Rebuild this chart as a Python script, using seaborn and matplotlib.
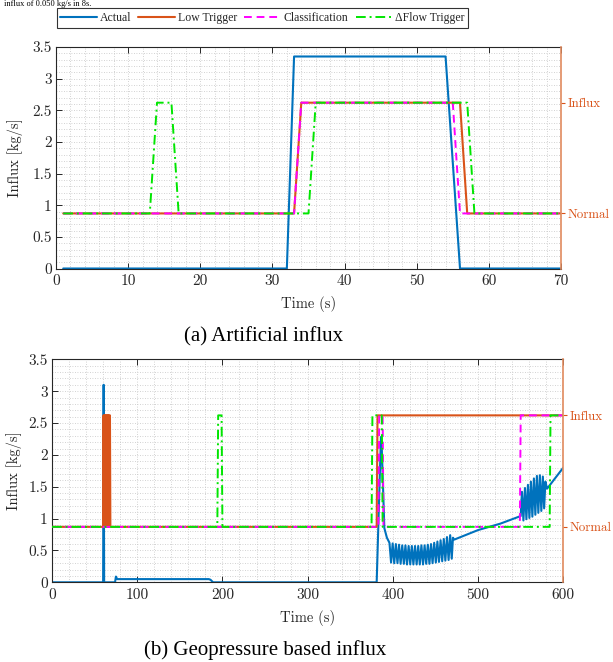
import numpy as np
import pandas as pd
import matplotlib
matplotlib.use("Agg")
import matplotlib.pyplot as plt
from matplotlib.ticker import MultipleLocator
import seaborn as sns

# ---------------- data: panel (a) artificial influx ----------------
a_actual_t = [1, 32, 33, 54, 56, 70]
a_actual_v = [0, 0, 3.35, 3.35, 0, 0]
a_low_t = [1, 33, 34, 56, 57, 70]
a_low_v = [0.87, 0.87, 2.62, 2.62, 0.87, 0.87]
a_cls_t = [1, 33, 34, 55, 56, 70]
a_cls_v = [0.87, 0.87, 2.62, 2.62, 0.87, 0.87]
a_dflow_t = [1, 13, 14, 16, 17, 35, 36, 57, 58, 70]
a_dflow_v = [0.87, 0.87, 2.62, 2.62, 0.87, 0.87, 2.62, 2.62, 0.87, 0.87]

# ---------------- data: panel (b) geopressure based influx ----------------
b_actual_t = [0, 60, 60.6, 61.2, 74, 75, 76.5, 184, 186, 189, 381, 386, 387, 390, 393,
              396, 397.9, 399.75, 401.6, 403.5, 405.4, 407.25, 409.1, 411, 412.9,
              414.75, 416.6, 418.5, 420.4, 422.25, 424.1, 426, 427.9, 429.75, 431.6,
              433.5, 435.4, 437.25, 439.1, 441, 442.9, 444.75, 446.6, 448.5, 450.4,
              452.25, 454.1, 456, 457.9, 459.75, 461.6, 463.5, 465.4, 467.25, 469.1,
              470.5, 472, 500, 526, 550,
              551.5, 553.2, 555, 556.7, 558.5, 560.2, 562, 563.7, 565.5, 567.2,
              569, 570.7, 572.5, 574.2, 576, 577.5, 579, 581, 600]
b_actual_v = [0, 0, 3.1, 0, 0, 0.09, 0.05, 0.05, 0.04, 0, 0, 2.28, 2.1, 0.85, 0.7,
              0.62, 0.31, 0.61, 0.30, 0.60, 0.30, 0.59, 0.29, 0.58, 0.29,
              0.58, 0.28, 0.57, 0.28, 0.57, 0.28, 0.57, 0.28, 0.57, 0.28,
              0.58, 0.28, 0.58, 0.29, 0.59, 0.29, 0.60, 0.30, 0.62, 0.31,
              0.64, 0.32, 0.66, 0.33, 0.68, 0.34, 0.71, 0.35, 0.74, 0.37,
              0.70, 0.67, 0.82, 0.92, 1.04,
              1.42, 0.97, 1.48, 0.99, 1.53, 1.01, 1.58, 1.03, 1.63, 1.06,
              1.67, 1.09, 1.68, 1.12, 1.66, 1.16, 1.58, 1.47, 1.80]
b_low_t = [0, 60, 60.5, 61, 61.5, 62, 62.5, 63, 63.5, 64, 64.5, 65, 65.5, 66, 66.5,
           67, 67.5, 68, 68.5, 381, 382, 600]
b_low_v = [0.87, 0.87, 2.62, 0.87, 2.62, 0.87, 2.62, 0.87, 2.62, 0.87, 2.62, 0.87,
           2.62, 0.87, 2.62, 0.87, 2.62, 2.62, 0.87, 0.87, 2.62, 2.62]
b_cls_t = [0, 383, 384, 388, 389, 549, 550, 600]
b_cls_v = [0.87, 0.87, 2.62, 2.62, 0.87, 0.87, 2.62, 2.62]
b_dflow_t = [0, 194, 195, 199, 200, 375, 376, 387, 388, 584, 585, 600]
b_dflow_v = [0.87, 0.87, 2.62, 2.62, 0.87, 0.87, 2.62, 2.62, 0.87, 0.87, 2.62, 2.62]

y_ticks = [0, 0.5, 1, 1.5, 2, 2.5, 3, 3.5]
y_labels = ["0", "0.5", "1", "1.5", "2", "2.5", "3", "3.5"]
a_x_ticks = [0, 10, 20, 30, 40, 50, 60, 70]
b_x_ticks = [0, 100, 200, 300, 400, 500, 600]
state_ticks = [0.87, 2.62]
state_labels = ["Normal", "Influx"]
series_names = ["Actual", "Low Trigger", "Classification", "\u0394Flow Trigger"]

# ---------------- style ----------------
sns.set_theme(style="ticks")
plt.rcParams["font.family"] = ["cmr10", "DejaVu Serif"]
plt.rcParams["axes.formatter.use_mathtext"] = True
plt.rcParams["mathtext.fontset"] = "cm"

BLUE = "#0072BD"
ORANGE = "#D95319"
MAGENTA = "#FF00FF"
GREEN = "#00E600"
DARK = "#262626"
TICK_FS = 11
LAB_FS = 10.5
STATE_FS = 9.3

fig = plt.figure(figsize=(6.13, 6.62), dpi=100)
W, H = 613.0, 662.0


def make_ax(l, r, top, bot):
    return fig.add_axes([l / W, 1 - bot / H, (r - l) / W, (bot - top) / H])


axA = make_ax(56, 561, 47, 268.5)
axB = make_ax(52, 563.3, 359.3, 582.3)


def draw(ax, at, av, lt, lv, ct, cv, dt, dv):
    sns.lineplot(x=at, y=av, ax=ax, color=BLUE, lw=1.5, sort=False, estimator=None,
                 label=series_names[0], zorder=2)
    sns.lineplot(x=lt, y=lv, ax=ax, color=ORANGE, lw=1.5, sort=False, estimator=None,
                 label=series_names[1], zorder=3)
    sns.lineplot(x=ct, y=cv, ax=ax, color=MAGENTA, lw=1.4, sort=False, estimator=None,
                 linestyle=(0, (4, 2.5)), label=series_names[2], zorder=4)
    sns.lineplot(x=dt, y=dv, ax=ax, color=GREEN, lw=1.4, sort=False, estimator=None,
                 linestyle=(0, (5, 2, 1, 2)), label=series_names[3], zorder=5)


draw(axA, a_actual_t, a_actual_v, a_low_t, a_low_v, a_cls_t, a_cls_v, a_dflow_t, a_dflow_v)
draw(axB, b_actual_t, b_actual_v, b_low_t, b_low_v, b_cls_t, b_cls_v, b_dflow_t, b_dflow_v)

handles, labels = axA.get_legend_handles_labels()
for ax in (axA, axB):
    if ax.get_legend() is not None:
        ax.get_legend().remove()


def style_ax(ax, xmax, xticks, xminor, ylabx, xlaby):
    ax.set_xlim(0, xmax)
    ax.set_ylim(0, 3.5)
    ax.set_xticks(xticks, [str(v) for v in xticks])
    ax.set_yticks(y_ticks, y_labels)
    ax.xaxis.set_minor_locator(MultipleLocator(xminor))
    ax.yaxis.set_minor_locator(MultipleLocator(0.1))
    ax.grid(True, which="both", linestyle=(0, (1, 2)), color="#c4c4c4", lw=0.6)
    ax.set_axisbelow(True)
    ax.tick_params(axis="both", which="major", direction="in", length=4, width=0.7,
                   colors=DARK, labelsize=TICK_FS, top=True, right=False)
    ax.tick_params(axis="x", which="major", pad=4)
    ax.tick_params(axis="y", which="major", pad=3)
    ax.tick_params(axis="both", which="minor", length=0)
    for s in ("left", "bottom", "top"):
        ax.spines[s].set_color(DARK)
        ax.spines[s].set_linewidth(0.8)
    ax.spines["right"].set_visible(False)
    ax.set_ylabel("Influx [kg/s]", fontsize=LAB_FS, color=DARK)
    ax.yaxis.set_label_coords(ylabx, 0.5)
    ax.set_xlabel("Time (s)", fontsize=LAB_FS, color=DARK)
    ax.xaxis.set_label_coords(0.5, xlaby)
    ax2 = ax.twinx()
    ax2.set_ylim(0, 3.5)
    ax2.set_yticks(state_ticks, state_labels)
    ax2.tick_params(axis="y", direction="out", length=3, width=0.8, colors=ORANGE,
                    labelsize=STATE_FS, pad=1.5)
    ax2.spines["right"].set_color("#E08A5E")
    ax2.spines["right"].set_linewidth(1.2)
    for s in ("left", "top", "bottom"):
        ax2.spines[s].set_visible(False)
    ax2.grid(False)


style_ax(axA, 70, a_x_ticks, 2, -0.065, -0.125)
style_ax(axB, 600, b_x_ticks, 20, -0.059, -0.125)

leg = fig.legend(handles, labels, loc="center", bbox_to_anchor=(262.5 / W, 1 - 18 / H),
                 ncol=4, frameon=True, fancybox=False, edgecolor="black",
                 prop={"family": ["Liberation Serif", "DejaVu Serif"], "size": 8.5},
                 handlelength=3.1, handletextpad=0.25, columnspacing=0.6, borderpad=0.3,
                 borderaxespad=0)
leg.get_frame().set_linewidth(0.8)

serif = ["Liberation Serif", "DejaVu Serif"]
fig.text(264 / W, 1 - 337 / H, "(a) Artificial influx", ha="center", va="center",
         fontsize=15, family=serif, color="black")
fig.text(265 / W, 1 - 650 / H, "(b) Geopressure based influx", ha="center", va="center",
         fontsize=15, family=serif, color="black")
fig.text(4 / W, 1 - 0.5 / H, "influx of 0.050 kg/s in 8s.", ha="left", va="top",
         fontsize=6, family=serif, color="black")

fig.savefig("out.png", dpi=100)
